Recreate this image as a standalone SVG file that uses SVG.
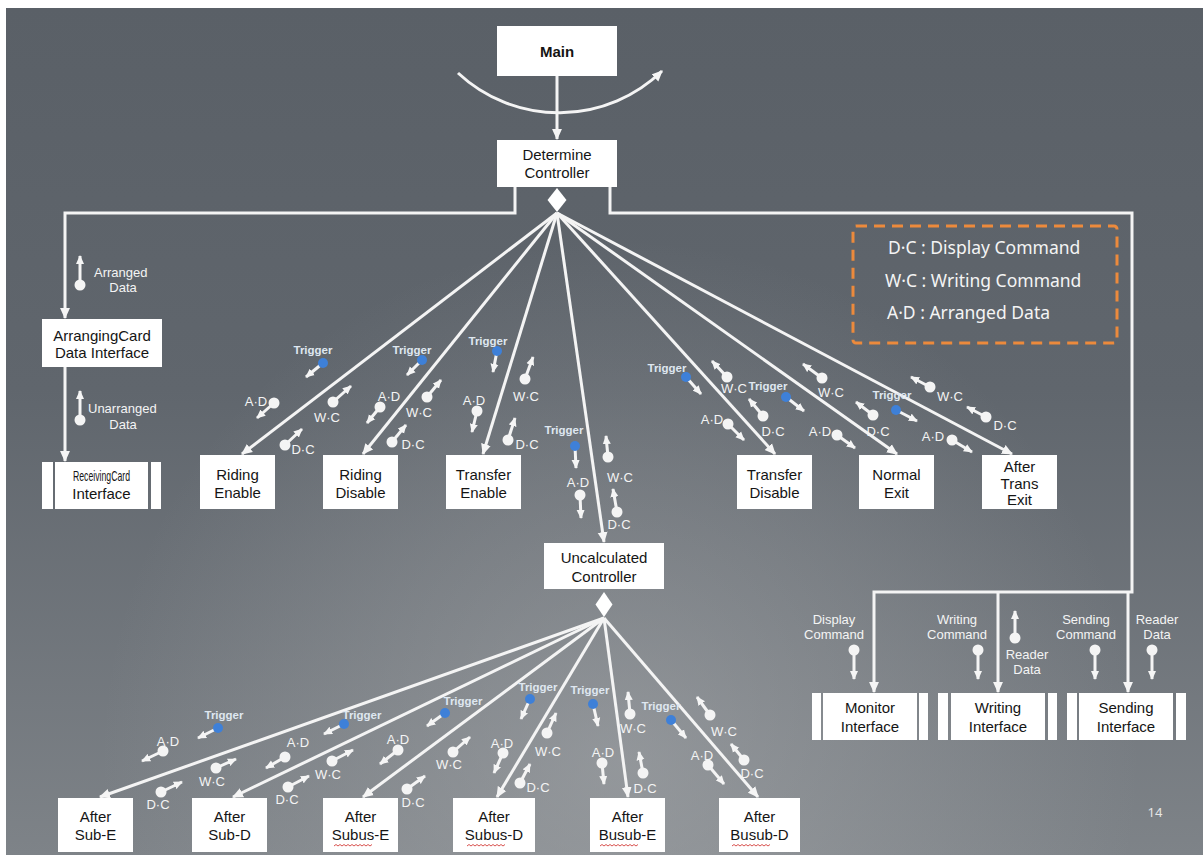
<svg xmlns="http://www.w3.org/2000/svg" width="1203" height="855" viewBox="0 0 1203 855">
<defs>
<linearGradient id="bgl" x1="0" y1="0" x2="0" y2="1">
<stop offset="0" stop-color="#5a6067"/>
<stop offset="0.45" stop-color="#60666d"/>
<stop offset="1" stop-color="#7e8388"/>
</linearGradient>
<radialGradient id="bgr" gradientUnits="userSpaceOnUse" cx="620" cy="760" r="520">
<stop offset="0" stop-color="#b4b6b8" stop-opacity="0.45"/>
<stop offset="1" stop-color="#b4b6b8" stop-opacity="0"/>
</radialGradient>
<marker id="ah" viewBox="0 0 10 10" refX="9" refY="5" markerWidth="11" markerHeight="11" markerUnits="userSpaceOnUse" orient="auto">
<path d="M0,0.5 L10,5 L0,9.5 z" fill="#f5f5f5"/>
</marker>
<marker id="sa" viewBox="0 0 10 10" refX="9" refY="5" markerWidth="9" markerHeight="9" markerUnits="userSpaceOnUse" orient="auto">
<path d="M0,0.5 L10,5 L0,9.5 z" fill="#f5f5f5"/>
</marker>
<style>
.bx{fill:#fff}
.lb{font-family:"Liberation Sans","Noto Sans",sans-serif;font-size:15px;fill:#151515;text-anchor:middle}
.cn{fill:none;stroke:#f4f4f4;stroke-width:3}
.pl{stroke:#f4f4f4;stroke-width:3;fill:none}
.pc{fill:#f4f4f4}
.tc{fill:#3e80d8}
.al{font-family:"Liberation Sans","Noto Sans",sans-serif;font-size:13px;fill:#f4f4f4;text-anchor:middle}
.tl{font-family:"Liberation Sans","Noto Sans",sans-serif;font-size:11.5px;font-weight:bold;fill:#dfe7f0;text-anchor:middle}
.lg{font-family:"Noto Sans","Liberation Sans",sans-serif;font-size:17.5px;fill:#f4f4f4}
.wv{fill:none;stroke:#d9534f;stroke-width:1}
</style>
</defs>
<rect width="1203" height="855" fill="#fff"/>
<rect x="6" y="8" width="1197" height="847" fill="url(#bgl)"/>
<rect x="6" y="8" width="1197" height="847" fill="url(#bgr)"/>

<g id="connectors">
<path class="cn" d="M557,76 V139" marker-end="url(#ah)"/>
<path class="cn" d="M458,73 A148,148 0 0 0 662,71" marker-end="url(#ah)"/>
<path class="cn" d="M515,187 V213 H65 V318" marker-end="url(#ah)"/>
<path class="cn" d="M65,367 V461" marker-end="url(#ah)"/>
<path class="cn" d="M610,187 V213 H1132 V592 H874 V692" marker-end="url(#ah)"/>
<path class="cn" d="M998,592 V692" marker-end="url(#ah)"/>
<path class="cn" d="M1128,592 V692" marker-end="url(#ah)"/>
<path class="cn" d="M557,213 L242,454" marker-end="url(#ah)"/>
<path class="cn" d="M557,213 L363,454" marker-end="url(#ah)"/>
<path class="cn" d="M557,213 L483,454" marker-end="url(#ah)"/>
<path class="cn" d="M557,213 L604,542" marker-end="url(#ah)"/>
<path class="cn" d="M557,213 L775,454" marker-end="url(#ah)"/>
<path class="cn" d="M557,213 L897,454" marker-end="url(#ah)"/>
<path class="cn" d="M557,213 L1012,454" marker-end="url(#ah)"/>
<path class="cn" d="M604,618 L100,797" marker-end="url(#ah)"/>
<path class="cn" d="M604,618 L233,797" marker-end="url(#ah)"/>
<path class="cn" d="M604,618 L363,797" marker-end="url(#ah)"/>
<path class="cn" d="M604,618 L497,797" marker-end="url(#ah)"/>
<path class="cn" d="M604,618 L628,797" marker-end="url(#ah)"/>
<path class="cn" d="M604,618 L758,797" marker-end="url(#ah)"/>
</g>

<g id="main"><rect class="bx" x="497" y="26" width="120" height="50"/><text class="lb" x="557" y="57" font-size="17" font-weight="bold">Main</text></g>
<g id="determine-controller"><rect class="bx" x="497" y="140" width="120" height="47"/><text class="lb" x="557" y="160" font-size="15">Determine</text><text class="lb" x="557" y="178" font-size="15">Controller</text></g>
<g id="decision-1"><polygon class="bx" points="557,188 566.5,200 557,212 547.5,200"/></g>
<g id="uncalculated-controller"><rect class="bx" x="544" y="543" width="120" height="46"/><text class="lb" x="604" y="563" font-size="15">Uncalculated</text><text class="lb" x="604" y="582" font-size="15">Controller</text></g>
<g id="decision-2"><polygon class="bx" points="604,592 612.5,604.5 604,617 595.5,604.5"/></g>

<g id="arranging-card"><rect class="bx" x="42" y="319" width="120" height="48"/><text class="lb" x="102" y="341" font-size="12.5">ArrangingCard</text><text class="lb" x="102" y="358" font-size="12.5">Data Interface</text></g>
<g id="receiving-card"><rect class="bx" x="42" y="462" width="11" height="47"/><rect class="bx" x="55" y="462" width="93" height="47"/><rect class="bx" x="151" y="462" width="10" height="47"/><text class="lb" x="101.5" y="481" font-size="12" textLength="57" lengthAdjust="spacingAndGlyphs">ReceivingCard</text><text class="lb" x="101.5" y="499" font-size="13">Interface</text></g>

<g id="riding-enable"><rect class="bx" x="200" y="455" width="75" height="54"/><text class="lb" x="237.5" y="480">Riding</text><text class="lb" x="237.5" y="497.5">Enable</text></g>
<g id="riding-disable"><rect class="bx" x="323" y="455" width="75" height="54"/><text class="lb" x="360.5" y="480">Riding</text><text class="lb" x="360.5" y="497.5">Disable</text></g>
<g id="transfer-enable"><rect class="bx" x="446" y="455" width="75" height="54"/><text class="lb" x="483.5" y="480">Transfer</text><text class="lb" x="483.5" y="497.5">Enable</text></g>
<g id="transfer-disable"><rect class="bx" x="737" y="455" width="75" height="54"/><text class="lb" x="774.5" y="480">Transfer</text><text class="lb" x="774.5" y="497.5">Disable</text></g>
<g id="normal-exit"><rect class="bx" x="859" y="455" width="75" height="54"/><text class="lb" x="896.5" y="480">Normal</text><text class="lb" x="896.5" y="497.5">Exit</text></g>
<g id="after-trans-exit"><rect class="bx" x="982" y="455" width="75" height="54"/><text class="lb" x="1019.5" y="472" font-size="14">After</text><text class="lb" x="1019.5" y="488.5" font-size="14">Trans</text><text class="lb" x="1019.5" y="505" font-size="14">Exit</text></g>

<g id="after-sub-e"><rect class="bx" x="58" y="798" width="75" height="54"/><text class="lb" x="95.5" y="822">After</text><text class="lb" x="95.5" y="839.5">Sub-E</text></g>
<g id="after-sub-d"><rect class="bx" x="192" y="798" width="75" height="54"/><text class="lb" x="229.5" y="822">After</text><text class="lb" x="229.5" y="839.5">Sub-D</text></g>
<g id="after-subus-e"><rect class="bx" x="323" y="798" width="75" height="54"/><text class="lb" x="360.5" y="822">After</text><text class="lb" x="360.5" y="839.5">Subus-E</text><path class="wv" d="M334,846 l2,-1.5 l2,1.5 l2,-1.5 l2,1.5 l2,-1.5 l2,1.5 l2,-1.5 l2,1.5 l2,-1.5 l2,1.5 l2,-1.5 l2,1.5 l2,-1.5 l2,1.5 l2,-1.5 l2,1.5 l2,-1.5 l2,1.5 l2,-1.5"/></g>
<g id="after-subus-d"><rect class="bx" x="453" y="798" width="82" height="54"/><text class="lb" x="494" y="822">After</text><text class="lb" x="494" y="839.5">Subus-D</text><path class="wv" d="M467,846 l2,-1.5 l2,1.5 l2,-1.5 l2,1.5 l2,-1.5 l2,1.5 l2,-1.5 l2,1.5 l2,-1.5 l2,1.5 l2,-1.5 l2,1.5 l2,-1.5 l2,1.5 l2,-1.5 l2,1.5 l2,-1.5 l2,1.5 l2,-1.5"/></g>
<g id="after-busub-e"><rect class="bx" x="590" y="798" width="75" height="54"/><text class="lb" x="627.5" y="822">After</text><text class="lb" x="627.5" y="839.5">Busub-E</text><path class="wv" d="M600,846 l2,-1.5 l2,1.5 l2,-1.5 l2,1.5 l2,-1.5 l2,1.5 l2,-1.5 l2,1.5 l2,-1.5 l2,1.5 l2,-1.5 l2,1.5 l2,-1.5 l2,1.5 l2,-1.5 l2,1.5 l2,-1.5 l2,1.5 l2,-1.5"/></g>
<g id="after-busub-d"><rect class="bx" x="719" y="798" width="81" height="54"/><text class="lb" x="759.5" y="822">After</text><text class="lb" x="759.5" y="839.5">Busub-D</text><path class="wv" d="M732,846 l2,-1.5 l2,1.5 l2,-1.5 l2,1.5 l2,-1.5 l2,1.5 l2,-1.5 l2,1.5 l2,-1.5 l2,1.5 l2,-1.5 l2,1.5 l2,-1.5 l2,1.5 l2,-1.5 l2,1.5 l2,-1.5 l2,1.5 l2,-1.5"/></g>

<g id="monitor-interface"><rect class="bx" x="812" y="693" width="9" height="47"/><rect class="bx" x="823" y="693" width="94" height="47"/><rect class="bx" x="919" y="693" width="9" height="47"/><text class="lb" x="870" y="713">Monitor</text><text class="lb" x="870" y="732">Interface</text></g>
<g id="writing-interface"><rect class="bx" x="938" y="693" width="10" height="47"/><rect class="bx" x="951" y="693" width="94" height="47"/><rect class="bx" x="1048" y="693" width="9" height="47"/><text class="lb" x="998" y="713">Writing</text><text class="lb" x="998" y="732">Interface</text></g>
<g id="sending-interface"><rect class="bx" x="1067" y="693" width="10" height="47"/><rect class="bx" x="1079" y="693" width="94" height="47"/><rect class="bx" x="1176" y="693" width="10" height="47"/><text class="lb" x="1126" y="713">Sending</text><text class="lb" x="1126" y="732">Interface</text></g>

<g id="legend">
<rect x="853" y="226" width="264" height="117" rx="3" fill="none" stroke="#ec8a3c" stroke-width="3" stroke-dasharray="11 7"/>
<text class="lg" x="888" y="254">D·C : Display Command</text>
<text class="lg" x="885" y="287">W·C : Writing Command</text>
<text class="lg" x="887" y="319">A·D : Arranged Data</text>
</g>

<g id="ann-left">
<line class="pl" x1="80" y1="285" x2="80" y2="256" marker-end="url(#sa)"/><circle class="pc" cx="80" cy="285" r="5.5"/>
<text class="al" x="94" y="277" style="text-anchor:start">Arranged</text><text class="al" x="123" y="292">Data</text>
<line class="pl" x1="80" y1="420" x2="80" y2="391" marker-end="url(#sa)"/><circle class="pc" cx="80" cy="420" r="5.5"/>
<text class="al" x="88" y="413" style="text-anchor:start">Unarranged</text><text class="al" x="123" y="429">Data</text>
</g>

<g id="ann-interfaces">
<line class="pl" x1="854" y1="650" x2="854" y2="679" marker-end="url(#sa)"/><circle class="pc" cx="854" cy="650" r="5.5"/>
<text class="al" x="834" y="624" font-size="12.5">Display</text><text class="al" x="834" y="639" font-size="12.5">Command</text>
<line class="pl" x1="978" y1="650" x2="978" y2="679" marker-end="url(#sa)"/><circle class="pc" cx="978" cy="650" r="5.5"/>
<text class="al" x="957" y="624" font-size="12.5">Writing</text><text class="al" x="957" y="639" font-size="12.5">Command</text>
<line class="pl" x1="1015" y1="638" x2="1015" y2="611" marker-end="url(#sa)"/><circle class="pc" cx="1015" cy="638" r="5.5"/>
<text class="al" x="1027" y="659" font-size="12.5">Reader</text><text class="al" x="1027" y="674" font-size="12.5">Data</text>
<line class="pl" x1="1095" y1="650" x2="1095" y2="679" marker-end="url(#sa)"/><circle class="pc" cx="1095" cy="650" r="5.5"/>
<text class="al" x="1086" y="624" font-size="12.5">Sending</text><text class="al" x="1086" y="639" font-size="12.5">Command</text>
<line class="pl" x1="1152" y1="650" x2="1152" y2="679" marker-end="url(#sa)"/><circle class="pc" cx="1152" cy="650" r="5.5"/>
<text class="al" x="1157" y="624" font-size="12.5">Reader</text><text class="al" x="1157" y="639" font-size="12.5">Data</text>
</g>

<g id="ann-top">
<line class="pl" x1="323" y1="363" x2="306" y2="377" marker-end="url(#sa)"/><circle class="tc" cx="323" cy="363" r="5"/><text class="tl" x="313" y="354">Trigger</text>
<line class="pl" x1="274" y1="403" x2="257" y2="418" marker-end="url(#sa)"/><circle class="pc" cx="274" cy="403" r="5.5"/><text class="al" x="256" y="406">A·D</text>
<line class="pl" x1="333" y1="402" x2="351" y2="386" marker-end="url(#sa)"/><circle class="pc" cx="333" cy="402" r="5.5"/><text class="al" x="327" y="422">W·C</text>
<line class="pl" x1="285" y1="445" x2="302" y2="429" marker-end="url(#sa)"/><circle class="pc" cx="285" cy="445" r="5.5"/><text class="al" x="303" y="454">D·C</text>

<line class="pl" x1="422" y1="360" x2="407" y2="375" marker-end="url(#sa)"/><circle class="tc" cx="422" cy="360" r="5"/><text class="tl" x="412" y="354">Trigger</text>
<line class="pl" x1="380" y1="407" x2="367" y2="423" marker-end="url(#sa)"/><circle class="pc" cx="380" cy="407" r="5.5"/><text class="al" x="389" y="401">A·D</text>
<line class="pl" x1="427" y1="397" x2="441" y2="380" marker-end="url(#sa)"/><circle class="pc" cx="427" cy="397" r="5.5"/><text class="al" x="419" y="417">W·C</text>
<line class="pl" x1="392" y1="442" x2="406" y2="425" marker-end="url(#sa)"/><circle class="pc" cx="392" cy="442" r="5.5"/><text class="al" x="413" y="449">D·C</text>

<line class="pl" x1="497" y1="351" x2="493" y2="372" marker-end="url(#sa)"/><circle class="tc" cx="497" cy="351" r="5"/><text class="tl" x="488" y="345">Trigger</text>
<line class="pl" x1="477" y1="411" x2="472" y2="432" marker-end="url(#sa)"/><circle class="pc" cx="477" cy="411" r="5.5"/><text class="al" x="474" y="405">A·D</text>
<line class="pl" x1="525" y1="379" x2="533" y2="357" marker-end="url(#sa)"/><circle class="pc" cx="525" cy="379" r="5.5"/><text class="al" x="526" y="401">W·C</text>
<line class="pl" x1="508" y1="440" x2="515" y2="418" marker-end="url(#sa)"/><circle class="pc" cx="508" cy="440" r="5.5"/><text class="al" x="527" y="449">D·C</text>

<line class="pl" x1="575" y1="446" x2="576" y2="468" marker-end="url(#sa)"/><circle class="tc" cx="575" cy="446" r="5"/><text class="tl" x="564" y="434">Trigger</text>
<line class="pl" x1="580" y1="495" x2="581" y2="518" marker-end="url(#sa)"/><circle class="pc" cx="580" cy="495" r="5.5"/><text class="al" x="578" y="487">A·D</text>
<line class="pl" x1="608" y1="457" x2="606" y2="436" marker-end="url(#sa)"/><circle class="pc" cx="608" cy="457" r="5.5"/><text class="al" x="620" y="482">W·C</text>
<line class="pl" x1="617" y1="512" x2="613" y2="489" marker-end="url(#sa)"/><circle class="pc" cx="617" cy="512" r="5.5"/><text class="al" x="619" y="529">D·C</text>

<line class="pl" x1="686" y1="377" x2="701" y2="394" marker-end="url(#sa)"/><circle class="tc" cx="686" cy="377" r="5"/><text class="tl" x="667" y="372">Trigger</text>
<line class="pl" x1="727" y1="377" x2="712" y2="361" marker-end="url(#sa)"/><circle class="pc" cx="727" cy="377" r="5.5"/><text class="al" x="734" y="393">W·C</text>
<line class="pl" x1="728" y1="424" x2="744" y2="440" marker-end="url(#sa)"/><circle class="pc" cx="728" cy="424" r="5.5"/><text class="al" x="712" y="424">A·D</text>
<line class="pl" x1="763" y1="416" x2="749" y2="399" marker-end="url(#sa)"/><circle class="pc" cx="763" cy="416" r="5.5"/><text class="al" x="773" y="436">D·C</text>

<line class="pl" x1="786" y1="397" x2="804" y2="411" marker-end="url(#sa)"/><circle class="tc" cx="786" cy="397" r="5"/><text class="tl" x="768" y="390">Trigger</text>
<line class="pl" x1="822" y1="378" x2="803" y2="364" marker-end="url(#sa)"/><circle class="pc" cx="822" cy="378" r="5.5"/><text class="al" x="831" y="397">W·C</text>
<line class="pl" x1="837" y1="435" x2="855" y2="448" marker-end="url(#sa)"/><circle class="pc" cx="837" cy="435" r="5.5"/><text class="al" x="820" y="436">A·D</text>
<line class="pl" x1="873" y1="415" x2="856" y2="402" marker-end="url(#sa)"/><circle class="pc" cx="873" cy="415" r="5.5"/><text class="al" x="878" y="436">D·C</text>

<line class="pl" x1="896" y1="410" x2="917" y2="421" marker-end="url(#sa)"/><circle class="tc" cx="896" cy="410" r="5"/><text class="tl" x="892" y="399">Trigger</text>
<line class="pl" x1="930" y1="387" x2="911" y2="377" marker-end="url(#sa)"/><circle class="pc" cx="930" cy="387" r="5.5"/><text class="al" x="950" y="401">W·C</text>
<line class="pl" x1="952" y1="440" x2="972" y2="452" marker-end="url(#sa)"/><circle class="pc" cx="952" cy="440" r="5.5"/><text class="al" x="933" y="441">A·D</text>
<line class="pl" x1="986" y1="417" x2="967" y2="407" marker-end="url(#sa)"/><circle class="pc" cx="986" cy="417" r="5.5"/><text class="al" x="1005" y="430">D·C</text>
</g>

<g id="ann-bottom">
<line class="pl" x1="218" y1="728" x2="198" y2="738" marker-end="url(#sa)"/><circle class="tc" cx="218" cy="728" r="5"/><text class="tl" x="224" y="719">Trigger</text>
<line class="pl" x1="163" y1="751" x2="142" y2="761" marker-end="url(#sa)"/><circle class="pc" cx="163" cy="751" r="5.5"/><text class="al" x="168" y="746">A·D</text>
<line class="pl" x1="216" y1="768" x2="236" y2="759" marker-end="url(#sa)"/><circle class="pc" cx="216" cy="768" r="5.5"/><text class="al" x="212" y="786">W·C</text>
<line class="pl" x1="161" y1="792" x2="182" y2="782" marker-end="url(#sa)"/><circle class="pc" cx="161" cy="792" r="5.5"/><text class="al" x="158" y="809">D·C</text>

<line class="pl" x1="344" y1="724" x2="324" y2="734" marker-end="url(#sa)"/><circle class="tc" cx="344" cy="724" r="5"/><text class="tl" x="362" y="719">Trigger</text>
<line class="pl" x1="285" y1="757" x2="266" y2="768" marker-end="url(#sa)"/><circle class="pc" cx="285" cy="757" r="5.5"/><text class="al" x="298" y="747">A·D</text>
<line class="pl" x1="332" y1="761" x2="353" y2="750" marker-end="url(#sa)"/><circle class="pc" cx="332" cy="761" r="5.5"/><text class="al" x="328" y="779">W·C</text>
<line class="pl" x1="288" y1="787" x2="309" y2="776" marker-end="url(#sa)"/><circle class="pc" cx="288" cy="787" r="5.5"/><text class="al" x="287" y="804">D·C</text>

<line class="pl" x1="445" y1="713" x2="427" y2="726" marker-end="url(#sa)"/><circle class="tc" cx="445" cy="713" r="5"/><text class="tl" x="463" y="705">Trigger</text>
<line class="pl" x1="398" y1="750" x2="380" y2="764" marker-end="url(#sa)"/><circle class="pc" cx="398" cy="750" r="5.5"/><text class="al" x="398" y="744">A·D</text>
<line class="pl" x1="453" y1="752" x2="470" y2="737" marker-end="url(#sa)"/><circle class="pc" cx="453" cy="752" r="5.5"/><text class="al" x="449" y="769">W·C</text>
<line class="pl" x1="407" y1="789" x2="425" y2="776" marker-end="url(#sa)"/><circle class="pc" cx="407" cy="789" r="5.5"/><text class="al" x="413" y="807">D·C</text>

<line class="pl" x1="530" y1="699" x2="521" y2="719" marker-end="url(#sa)"/><circle class="tc" cx="530" cy="699" r="5"/><text class="tl" x="538" y="691">Trigger</text>
<line class="pl" x1="503" y1="753" x2="494" y2="773" marker-end="url(#sa)"/><circle class="pc" cx="503" cy="753" r="5.5"/><text class="al" x="502" y="748">A·D</text>
<line class="pl" x1="547" y1="733" x2="556" y2="713" marker-end="url(#sa)"/><circle class="pc" cx="547" cy="733" r="5.5"/><text class="al" x="548" y="756">W·C</text>
<line class="pl" x1="520" y1="783" x2="530" y2="764" marker-end="url(#sa)"/><circle class="pc" cx="520" cy="783" r="5.5"/><text class="al" x="538" y="792">D·C</text>

<line class="pl" x1="593" y1="704" x2="598" y2="726" marker-end="url(#sa)"/><circle class="tc" cx="593" cy="704" r="5"/><text class="tl" x="590" y="694">Trigger</text>
<line class="pl" x1="602" y1="763" x2="604" y2="784" marker-end="url(#sa)"/><circle class="pc" cx="602" cy="763" r="5.5"/><text class="al" x="603" y="757">A·D</text>
<line class="pl" x1="630" y1="714" x2="628" y2="692" marker-end="url(#sa)"/><circle class="pc" cx="630" cy="714" r="5.5"/><text class="al" x="633" y="733">W·C</text>
<line class="pl" x1="643" y1="773" x2="639" y2="752" marker-end="url(#sa)"/><circle class="pc" cx="643" cy="773" r="5.5"/><text class="al" x="645" y="793">D·C</text>

<line class="pl" x1="671" y1="720" x2="686" y2="738" marker-end="url(#sa)"/><circle class="tc" cx="671" cy="720" r="5"/><text class="tl" x="661" y="710">Trigger</text>
<line class="pl" x1="710" y1="715" x2="697" y2="697" marker-end="url(#sa)"/><circle class="pc" cx="710" cy="715" r="5.5"/><text class="al" x="724" y="736">W·C</text>
<line class="pl" x1="708" y1="765" x2="724" y2="784" marker-end="url(#sa)"/><circle class="pc" cx="708" cy="765" r="5.5"/><text class="al" x="702" y="760">A·D</text>
<line class="pl" x1="744" y1="760" x2="731" y2="744" marker-end="url(#sa)"/><circle class="pc" cx="744" cy="760" r="5.5"/><text class="al" x="752" y="778">D·C</text>
</g>

<text id="page-number" x="1155" y="817" font-family="Noto Sans, Liberation Sans, sans-serif" font-size="13" fill="#e6e6e6" text-anchor="middle">14</text>
</svg>
